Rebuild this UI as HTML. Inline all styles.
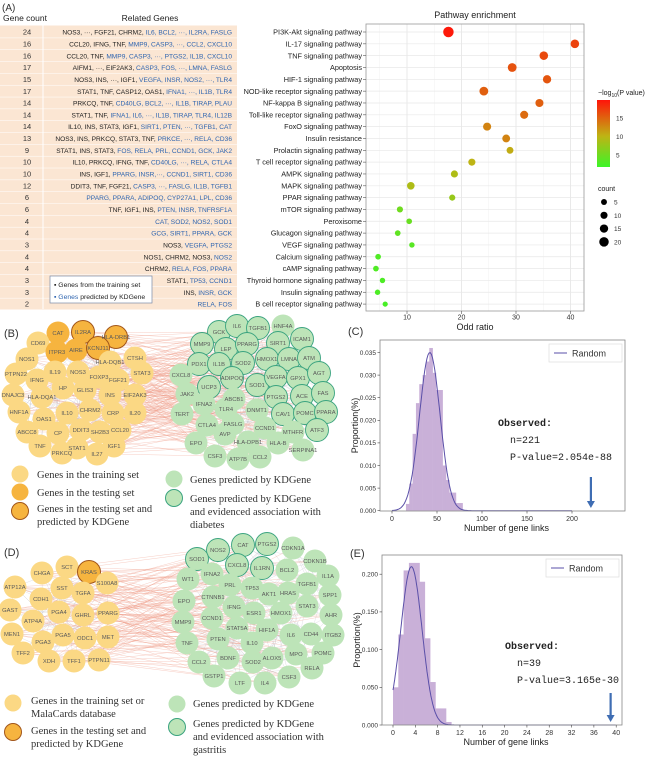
<!DOCTYPE html>
<html><head><meta charset="utf-8">
<style>
html,body{margin:0;padding:0;background:#fff;}
svg{display:block;font-family:"Liberation Sans",Arial,sans-serif;}
</style></head>
<body>
<svg id="fig" width="650" height="757" viewBox="0 0 650 757" xmlns="http://www.w3.org/2000/svg"></svg>
<script>
// ---------- Panel A data ----------
const geneCounts=[24,16,16,17,15,17,14,14,14,13,9,10,10,12,6,6,4,4,3,4,4,3,3,2];
const genesBlack=["NOS3, ···, FGF21, CHRM2, ","CCL20, IFNG, TNF, ","CCL20, TNF, ","AIFM1, ···, EIF2AK3, ","NOS3, INS, ···, IGF1, ","STAT1, TNF, CASP12, OAS1, ","PRKCQ, TNF, ","STAT1, TNF, ","IL10, INS, STAT3, IGF1, ","NOS3, INS, PRKCQ, STAT3, TNF, ","STAT1, INS, STAT3, ","IL10, PRKCQ, IFNG, TNF, ","INS, IGF1, ","DDIT3, TNF, FGF21, ","","TNF, IGF1, INS, ","","","NOS3, ","NOS1, CHRM2, NOS3, ","CHRM2, ","STAT1, ","INS, ",""];
const genesBlue=["IL6, BCL2, ···, IL2RA, FASLG","MMP9, CASP3, ···, CCL2, CXCL10","MMP9, CASP3, ···, PTGS2, IL1B, CXCL10","CASP3, FOS, ···, LMNA, FASLG","VEGFA, INSR, NOS2, ···, TLR4","IFNA1, ···, IL1B, TLR4","CD40LG, BCL2, ···, IL1B, TIRAP, PLAU","IFNA1, IL6, ···, IL1B, TIRAP, TLR4, IL12B","SIRT1, PTEN, ···, TGFB1, CAT","PRKCE, ···, RELA, CD36","FOS, RELA, PRL, CCND1, GCK, JAK2","CD40LG, ···, RELA, CTLA4","PPARG, INSR,···, CCND1, SIRT1, CD36","CASP3, ···, FASLG, IL1B, TGFB1","PPARG, PPARA, ADIPOQ, CYP27A1, LPL, CD36","PTEN, INSR, TNFRSF1A","CAT, SOD2, NOS2, SOD1","GCG, SIRT1, PPARA, GCK","VEGFA, PTGS2","NOS2","RELA, FOS, PPARA","TP53, CCND1","INSR, GCK","RELA, FOS"];
const pathways=["PI3K-Akt signaling pathway","IL-17 signaling pathway","TNF signaling pathway","Apoptosis","HIF-1 signaling pathway","NOD-like receptor signaling pathway","NF-kappa B signaling pathway","Toll-like receptor signaling pathway","FoxO signaling pathway","Insulin resistance","Prolactin signaling pathway","T cell receptor signaling pathway","AMPK signaling pathway","MAPK signaling pathway","PPAR signaling pathway","mTOR signaling pathway","Peroxisome","Glucagon signaling pathway","VEGF signaling pathway","Calcium signaling pathway","cAMP signaling pathway","Thyroid hormone signaling pathway","Insulin signaling pathway","B cell receptor signaling pathway"];
const oddRatios=[17.6,40.8,35.1,29.3,35.7,24.1,34.3,31.5,24.7,28.2,28.9,21.9,18.7,10.7,18.3,8.7,10.4,8.3,10.9,4.7,4.3,5.5,4.6,6.0];
const negLogP=[19.5,17,16.5,16,15.8,15.2,15.2,14.5,13,13,10.5,10,9,9,7.5,5,4.5,4,3.5,3,3,2.8,2.8,2.5];
const orTicks=[10,20,30,40];
const cbTicks=[5,10,15];
const sizeLegend=[5,10,15,20];
// ---------- Panel C data ----------
const cBinStart=15.5, cBinWidth=3.7;
const cHeights=[0.0015,0.006,0.017,0.0238,0.028,0.030,0.033,0.036,0.0305,0.0267,0.0267,0.010,0.0068,0.004,0.004,0.0017,0.0017];
const cMean=42, cSd=11.4;
const cXTicks=[0,50,100,150,200];
const cYTicks=[0,0.005,0.010,0.015,0.020,0.025,0.030,0.035];
const cObserved=221;
// ---------- Panel E data ----------
const eBinStart=0, eBinWidth=0.95;
const eHeights=[0.05,0.12,0.205,0.215,0.215,0.19,0.115,0.057,0.022,0.022,0.004];
const eMean=3.3, eSd=1.9;
const eXTicks=[0,4,8,12,16,20,24,28,32,36,40];
const eYTicks=[0,0.05,0.1,0.15,0.2];
const eObserved=39;
// ---------- Networks ----------
const bLeft=[["CAT",58,333,1],["IL2RA",83,332,2],["HLA-DRB1",116,337,2],["CD69",38,343,0],["ITPR3",57,352,1],["AIRE",76,350,1],["KCNJ11",98,348,2],["NOS1",27,359,0],["HLA-DQB1",110,362,0],["CTSH",135,358,0],["PTPN22",16,374,0],["IL19",55,372,0],["NOS3",78,372,0],["IFNG",37,380,0],["FOXP3",99,377,0],["STAT3",142,373,0],["FGF21",118,380,0],["HP",63,388,0],["GLIS3",85,390,0],["DNAJC3",13,395,0],["HLA-DQA1",42,397,0],["INS",110,395,0],["EIF2AK3",135,395,0],["HNF1A",19,412,0],["IL10",67,413,0],["CHRM2",90,410,0],["CRP",113,413,0],["IL20",135,413,0],["OAS1",44,419,0],["ABCC8",27,432,0],["CP",58,433,0],["DDIT3",81,430,0],["SH2B3",100,432,0],["CCL20",120,430,0],["TNF",40,446,0],["STAT1",77,448,0],["IGF1",114,446,0],["PRKCQ",62,453,0],["IL27",97,454,0]];
const bRight=[["GCK",219,332,1],["IL6",237,326,1],["TGFB1",258,328,1],["HNF4A",283,326,0],["MMP9",202,344,1],["LEP",226,349,1],["PPARG",247,344,1],["SIRT1",278,343,1],["ICAM1",302,339,1],["PDX1",199,364,1],["IL1B",219,364,1],["SOD2",243,363,1],["HMOX1",267,359,1],["LMNA",289,359,1],["ATM",309,358,1],["CXCL8",181,375,0],["ADIPOQ",232,378,1],["SOD1",257,385,1],["VEGFA",276,377,1],["GPX1",298,378,1],["AGT",319,373,1],["UCP3",209,387,1],["JAK2",187,394,0],["ABCB1",234,399,0],["PTGS2",276,397,1],["ACE",302,396,1],["FAS",323,393,1],["IFNA2",204,404,0],["TLR4",226,409,0],["DNMT1",257,410,0],["CAV1",283,414,1],["POMC",305,413,1],["PPARA",326,412,1],["TERT",182,414,0],["CTLA4",207,425,0],["FASLG",233,424,0],["CCND1",265,428,0],["MTHFR",293,432,0],["ATF3",317,430,1],["AVP",225,434,0],["EPO",196,443,0],["HLA-DPB1",248,442,0],["HLA-B",278,443,0],["SERPINA1",303,450,0],["CSF3",215,456,0],["ATP7B",238,459,0],["CCL2",260,457,0]];
const dLeft=[["SCT",67,567,0],["KRAS",89,572,2],["CHGA",42,573,0],["ATP12A",15,587,0],["SST",62,588,0],["TGFA",83,593,0],["S100A8",107,583,0],["CDH1",41,599,0],["GAST",10,610,0],["PGA4",59,612,0],["GHRL",83,615,0],["PPARG",108,613,0],["ATP4A",33,621,0],["MEN1",12,634,0],["PGA5",63,635,0],["ODC1",85,638,0],["MET",108,637,0],["PGA3",43,642,0],["TFF2",23,653,0],["XDH",49,661,0],["TFF1",74,661,0],["PTPN11",99,660,0]];
const dRight=[["CAT",243,545,1],["PTGS2",267,544,1],["CDKN1A",293,548,0],["NOS2",218,550,1],["SOD1",197,559,1],["CDKN1B",315,561,0],["CXCL8",237,565,1],["IL1RN",262,568,1],["BCL2",287,570,0],["WT1",188,579,0],["IFNA2",212,574,0],["IL1A",328,576,0],["PRL",230,585,0],["TP53",252,588,0],["TGFB1",307,584,0],["AKT1",269,594,0],["HRAS",288,593,0],["SPP1",330,595,0],["EPO",184,601,0],["CTNNB1",213,597,0],["STAT3",307,606,0],["IFNG",234,607,0],["ESR1",254,613,0],["HMOX1",281,613,0],["AHR",331,615,0],["MMP9",183,622,0],["CCND1",212,618,0],["STAT5A",237,628,0],["HIF1A",267,630,0],["IL6",291,635,0],["CD44",311,634,0],["ITGB2",333,635,0],["TNF",187,643,0],["PTEN",218,639,0],["IL10",252,643,0],["MPO",296,654,0],["POMC",323,653,0],["CCL2",199,662,0],["BDNF",228,658,0],["SOD2",253,662,0],["ALOX5",272,658,0],["RELA",312,668,0],["GSTP1",214,676,0],["CSF3",289,677,0],["LTF",240,683,0],["IL4",265,683,0]];

const NS="http://www.w3.org/2000/svg";
const svg=document.getElementById('fig');
function el(tag,attrs,parent,text){const e=document.createElementNS(NS,tag);for(const k in attrs)e.setAttribute(k,attrs[k]);if(text!==undefined)e.textContent=text;(parent||svg).appendChild(e);return e;}
function grp(name,parent){const g=el('g',{},parent);return g;}
function txt(parent,x,y,s,size,opts){opts=opts||{};const t=el('text',{x:x,y:y,'font-size':size,fill:opts.fill||'#222','text-anchor':opts.anchor||'start','font-family':opts.font||'"Liberation Sans",Arial,sans-serif'},parent,s);if(opts.weight)t.setAttribute('font-weight',opts.weight);if(opts.rot)t.setAttribute('transform',opts.rot);return t;}

// ================= PANEL A =================
const gA=grp('panel-a');
txt(gA,2,11,'(A)',10,{fill:'#333'});
const rowY=i=>32+11.83*i;
const gTable=grp('gene-table',gA);
el('rect',{x:0,y:25.5,width:237,height:284,fill:'#fbe6d3'},gTable);
el('line',{x1:43,y1:25.5,x2:43,y2:309,stroke:'#fff','stroke-width':1},gTable);
txt(gTable,3,21,'Gene count',8.5,{fill:'#222'});
txt(gTable,150,21,'Related Genes',8.5,{anchor:'middle',fill:'#222'});
for(let i=0;i<geneCounts.length;i++){
  const y=rowY(i);
  const r=grp('table-row',gTable);
  el('line',{x1:0,y1:y+5.9,x2:237,y2:y+5.9,stroke:'#fff','stroke-width':0.5},r);
  txt(r,27,y+2.6,String(geneCounts[i]),7.5,{anchor:'middle',fill:'#333'});
  const t=el('text',{x:232,y:y+2.6,'font-size':6.6,'text-anchor':'end','font-family':'"Liberation Sans",Arial,sans-serif'},r);
  el('tspan',{fill:'#222'},t,genesBlack[i]);
  el('tspan',{fill:'#2f65b0'},t,genesBlue[i]);
}
const gLeg=grp('gene-color-legend',gA);
el('rect',{x:50,y:276,width:102,height:27,fill:'#fff',stroke:'#7a8aa8','stroke-width':0.7},gLeg);
txt(gLeg,54,287,'▪ Genes from the training set',6.8,{fill:'#222'});
const lt=el('text',{x:54,y:299,'font-size':6.8,'font-family':'"Liberation Sans",Arial,sans-serif'},gLeg);
el('tspan',{fill:'#2f65b0'},lt,'▪ Genes');el('tspan',{fill:'#222'},lt,' predicted by KDGene');

// bubble chart
const gB=grp('bubble-chart',gA);
const xs=v=>352.5+5.45*v;
const pl=366,pr=584,pt=24,pb=311;
txt(gB,475,18,'Pathway enrichment',9,{anchor:'middle',fill:'#222'});
el('rect',{x:pl,y:pt,width:pr-pl,height:pb-pt,fill:'#fff'},gB);
for(let v=5;v<=40;v+=5){el('line',{x1:xs(v),y1:pt,x2:xs(v),y2:pb,stroke:(v%10===0)?'#e4e4e4':'#f1f1f1','stroke-width':(v%10===0)?0.8:0.5},gB);}
for(let i=0;i<pathways.length;i++){const y=rowY(i);el('line',{x1:pl,y1:y,x2:pr,y2:y,stroke:'#e8e8e8','stroke-width':0.7},gB);}
el('rect',{x:pl,y:pt,width:pr-pl,height:pb-pt,fill:'none',stroke:'#999','stroke-width':0.8},gB);
function pcol(v){const t=Math.max(0,Math.min(1,(v-1.7)/(19.8-1.7)));let a,b,u;if(t<0.46){a=[60,245,40];b=[190,180,20];u=t/0.46;}else{a=[190,180,20];b=[255,20,10];u=(t-0.46)/0.54;}return `rgb(${Math.round(a[0]+(b[0]-a[0])*u)},${Math.round(a[1]+(b[1]-a[1])*u)},${Math.round(a[2]+(b[2]-a[2])*u)})`;}
const rad=c=>2.6+(c-2)*0.12;
const gLabels=grp('pathway-labels',gB);
for(let i=0;i<pathways.length;i++){
  const y=rowY(i);
  txt(gLabels,362,y+2.6,pathways[i],7.3,{anchor:'end',fill:'#222'});
  el('line',{x1:363,y1:y,x2:366,y2:y,stroke:'#555','stroke-width':0.6},gLabels);
  const c=el('circle',{cx:xs(oddRatios[i]),cy:y,r:rad(geneCounts[i]),fill:pcol(negLogP[i])},gB);
  
  
}
const gXA=grp('x-axis',gB);
orTicks.forEach(v=>{el('line',{x1:xs(v),y1:pb,x2:xs(v),y2:pb+3,stroke:'#555','stroke-width':0.6},gXA);txt(gXA,xs(v),319.5,String(v),7,{anchor:'middle',fill:'#333'});});
const xt=txt(gXA,475,330,'Odd ratio',9,{anchor:'middle',fill:'#222'});
// colorbar legend
const gCB=grp('color-legend',gA);
const ct=el('text',{x:598,y:95,'font-size':7,fill:'#222','font-family':'"Liberation Sans",Arial,sans-serif'},gCB);
el('tspan',{},ct,'−log');el('tspan',{'font-size':5,dy:2},ct,'10');el('tspan',{dy:-2},ct,'(P value)');
const defs=el('defs',{});
const lg=el('linearGradient',{id:'cbg',x1:0,y1:1,x2:0,y2:0},defs);
[[0,1.7],[0.46,10],[1,19.8]].forEach(s=>el('stop',{offset:s[0],'stop-color':pcol(s[1])},lg));
el('rect',{x:597,y:100,width:13,height:67,fill:'url(#cbg)'},gCB);
const cby=v=>167-(v-1.7)*(67/18.1);
cbTicks.forEach(v=>{txt(gCB,616,cby(v)+2.5,String(v),6.5,{fill:'#333'});});
const gSL=grp('size-legend',gA);
txt(gSL,598,191,'count',7,{fill:'#222'});
sizeLegend.forEach((v,i)=>{const y=202+i*13.3;el('circle',{cx:604,cy:y,r:rad(v),fill:'#000'},gSL);txt(gSL,614,y+2.5,String(v),6.5,{fill:'#333'});});

// ================= NETWORKS =================
function network(name,left,right,r,edgeCount){
  const g=grp(name);
  const ge=grp('edges',g);
  [left,right].forEach(arr=>{for(let i=0;i<arr.length;i++){for(let k=1;k<=3;k++){const j=(i*5+k*7)%arr.length;if(j===i)continue;el('line',{x1:arr[i][1],y1:arr[i][2],x2:arr[j][1],y2:arr[j][2],stroke:'#c8c8d0','stroke-width':0.4,'stroke-opacity':0.7},ge);}}});
  for(let i=0;i<left.length;i++){for(let k=0;k<edgeCount;k++){const j=(i*7+k*11)%right.length;el('line',{x1:left[i][1],y1:left[i][2],x2:right[j][1],y2:right[j][2],stroke:'#ee9c86','stroke-width':0.45,'stroke-opacity':0.55},ge);}}
  const gn=grp('nodes',g);
  left.forEach(n=>{const c=el('circle',{cx:n[1],cy:n[2],r:r,fill:n[3]===0?'#fbd884':'#f6b43f',stroke:n[3]===2?'#a2561a':'none','stroke-width':1},gn);});
  right.forEach(n=>{const c=el('circle',{cx:n[1],cy:n[2],r:r,fill:'#bde4b8',stroke:n[3]===1?'#3aa37f':'none','stroke-width':0.9},gn);});
  const gl=grp('node-labels',g);
  left.concat(right).forEach(n=>{txt(gl,n[1],n[2]+2.2,n[0],5.8,{anchor:'middle',fill:'#5a5a5a'});});
  return g;
}
txt(svg,4,337,'(B)',11,{fill:'#333'});
network('network-b',bLeft,bRight,11.5,5);
const gBL=grp('legend-b');
const serif='"Liberation Serif","Times New Roman",serif';
el('circle',{cx:20,cy:474,r:8.5,fill:'#fbd884'},gBL);
txt(gBL,37,478,'Genes in the training set',10.5,{font:serif,fill:'#333'});
el('circle',{cx:20,cy:492,r:8.5,fill:'#f6b43f'},gBL);
txt(gBL,37,496,'Genes in the testing set',10.5,{font:serif,fill:'#333'});
el('circle',{cx:20,cy:511,r:8.5,fill:'#f6b43f',stroke:'#a2561a','stroke-width':1},gBL);
txt(gBL,37,512,'Genes in the testing set and',10.5,{font:serif,fill:'#333'});
txt(gBL,37,525,'predicted by KDGene',10.5,{font:serif,fill:'#333'});
el('circle',{cx:174,cy:479,r:8.5,fill:'#bde4b8'},gBL);
txt(gBL,190,483,'Genes predicted by KDGene',10.5,{font:serif,fill:'#333'});
el('circle',{cx:174,cy:498,r:8.5,fill:'#bde4b8',stroke:'#3aa37f','stroke-width':1},gBL);
txt(gBL,190,502,'Genes  predicted  by  KDGene',10.5,{font:serif,fill:'#333'});
txt(gBL,190,515,'and evidenced association with',10.5,{font:serif,fill:'#333'});
txt(gBL,190,528,'diabetes',10.5,{font:serif,fill:'#333'});

txt(svg,4,556,'(D)',11,{fill:'#333'});
network('network-d',dLeft,dRight,11.5,6);
const gDL=grp('legend-d');
el('circle',{cx:13,cy:703,r:8.5,fill:'#fbd884'},gDL);
txt(gDL,31,704,'Genes in the training set or',10.5,{font:serif,fill:'#333'});
txt(gDL,31,717,'MalaCards database',10.5,{font:serif,fill:'#333'});
el('circle',{cx:13,cy:732,r:8.5,fill:'#f6b43f',stroke:'#a2561a','stroke-width':1},gDL);
txt(gDL,31,734,'Genes in the testing set and',10.5,{font:serif,fill:'#333'});
txt(gDL,31,747,'predicted by KDGene',10.5,{font:serif,fill:'#333'});
el('circle',{cx:177,cy:704,r:8.5,fill:'#bde4b8'},gDL);
txt(gDL,193,707,'Genes predicted by KDGene',10.5,{font:serif,fill:'#333'});
el('circle',{cx:177,cy:727,r:8.5,fill:'#bde4b8',stroke:'#3aa37f','stroke-width':1},gDL);
txt(gDL,193,727,'Genes  predicted  by  KDGene',10.5,{font:serif,fill:'#333'});
txt(gDL,193,740,'and evidenced association with',10.5,{font:serif,fill:'#333'});
txt(gDL,193,753,'gastritis',10.5,{font:serif,fill:'#333'});

// ================= HISTOGRAMS =================
function hist(name,label,labelY,box,x0,xpu,y0,ypu,binStart,binW,heights,mean,sd,xTicks,yTicks,yFmt,observed,obsPos,pval,arrowTop){
  const g=grp(name);
  txt(g,box[0]-32,labelY,label,11,{fill:'#333'});
  el('rect',{x:box[0],y:box[1],width:box[2]-box[0],height:box[3]-box[1],fill:'#fff'},g);
  const X=v=>x0+v*xpu, Y=v=>y0-v*ypu;
  const gb=grp('histogram-bars',g);
  heights.forEach((h,i)=>{const b=el('rect',{x:X(binStart+i*binW),y:Y(h),width:binW*xpu+0.3,height:h*ypu,fill:'#c9b0d8'},gb);});
  const peak=1/(sd*Math.sqrt(2*Math.PI));let d='';
  for(let v=0;v<=xTicks[xTicks.length-1];v+=(xTicks[1]-xTicks[0])/40){const p=peak*Math.exp(-0.5*((v-mean)/sd)**2);d+=(d?'L':'M')+X(v).toFixed(1)+','+Y(p).toFixed(1);}
  const c=el('path',{d:d,fill:'none',stroke:'#5a4fa8','stroke-width':1},g);
  el('rect',{x:box[0],y:box[1],width:box[2]-box[0],height:box[3]-box[1],fill:'none',stroke:'#888','stroke-width':0.8},g);
  const ga=grp('axes',g);
  xTicks.forEach(v=>{el('line',{x1:X(v),y1:box[3],x2:X(v),y2:box[3]+2.5,stroke:'#444','stroke-width':0.6},ga);txt(ga,X(v),box[3]+10,String(v),7,{anchor:'middle',fill:'#333'});});
  yTicks.forEach(v=>{el('line',{x1:box[0]-2.5,y1:Y(v),x2:box[0],y2:Y(v),stroke:'#444','stroke-width':0.6},ga);txt(ga,box[0]-4,Y(v)+2.3,yFmt(v),6.5,{anchor:'end',fill:'#333'});});
  txt(ga,(box[0]+box[2])/2+4,box[3]+20,'Number of gene links',9,{anchor:'middle',fill:'#222'});
  const cy=(box[1]+box[3])/2;
  txt(ga,box[0]-22,cy,'Proportion(%)',9,{anchor:'middle',fill:'#222',rot:`rotate(-90 ${box[0]-22} ${cy})`});
  const gl=grp('legend',g);
  el('rect',{x:box[2]-76,y:box[1]+4,width:73,height:18,fill:'#fff',stroke:'#ddd','stroke-width':0.7},gl);
  el('line',{x1:box[2]-71,y1:box[1]+13,x2:box[2]-58,y2:box[1]+13,stroke:'#5a4fa8','stroke-width':1},gl);
  txt(gl,box[2]-53,box[1]+16.5,'Random',9,{fill:'#333'});
  const mono='"Liberation Mono","DejaVu Sans Mono",monospace';
  txt(g,obsPos[0],obsPos[1],'Observed:',10,{font:mono,weight:'bold',fill:'#222'});
  txt(g,obsPos[0]+12,obsPos[1]+17,'n='+observed,10,{font:mono,fill:'#222'});
  txt(g,obsPos[0]+12,obsPos[1]+34,'P-value='+pval,10,{font:mono,fill:'#222'});
  const ax=X(observed);
  const ar=grp('observed-arrow',g);
  el('line',{x1:ax,y1:arrowTop,x2:ax,y2:box[3]-8,stroke:'#3f6db3','stroke-width':2.2},ar);
  el('polygon',{points:`${ax-4},${box[3]-10} ${ax+4},${box[3]-10} ${ax},${box[3]-3}`,fill:'#3f6db3'},ar);
}
hist('histogram-c','(C)',335,[380,340,625,511],392,0.9,510.7,4520,cBinStart,cBinWidth,cHeights,cMean,cSd,cXTicks,cYTicks,v=>v.toFixed(3),cObserved,[498,426],'2.054e-88',477);
hist('histogram-e','(E)',557,[382,555,622,725],393,5.58,725,754,eBinStart,eBinWidth,eHeights,eMean,eSd,eXTicks,eYTicks,v=>v.toFixed(3),eObserved,[505,649],'3.165e-30',693);
</script>
</body></html>
